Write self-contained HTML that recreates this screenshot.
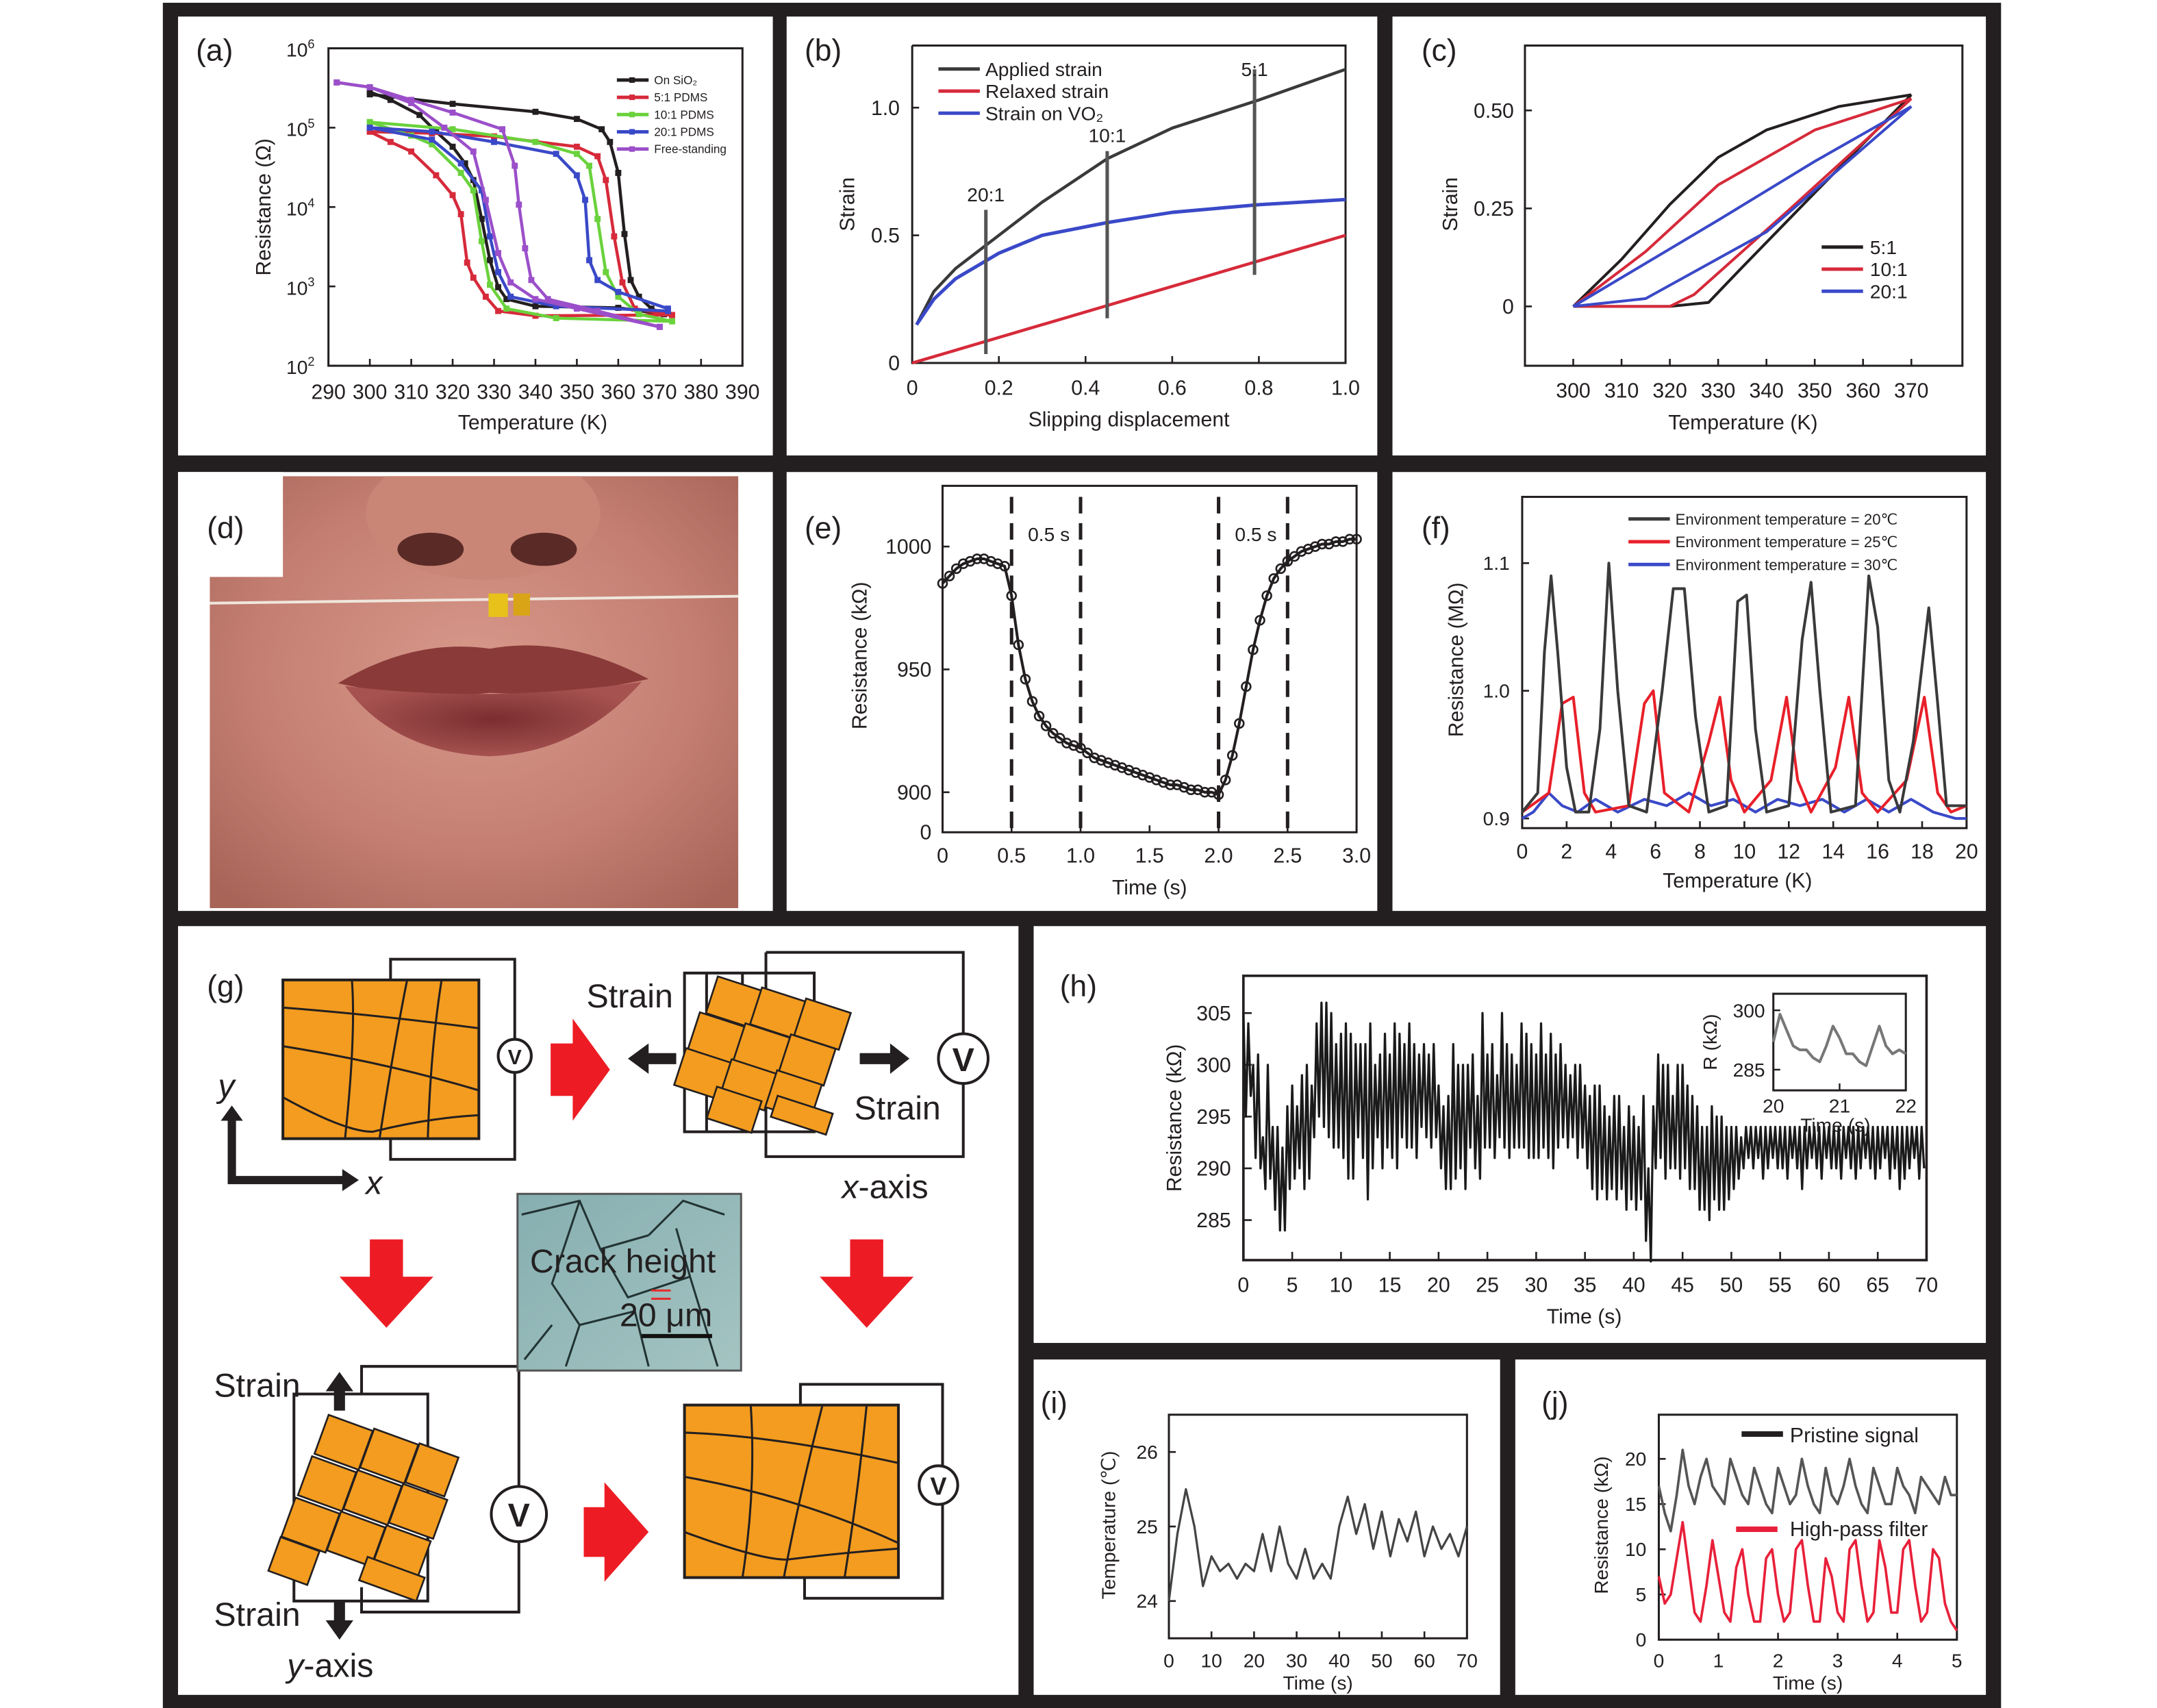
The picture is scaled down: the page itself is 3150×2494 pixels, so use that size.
<!DOCTYPE html>
<html><head><meta charset="utf-8"><style>
html,body{margin:0;padding:0;background:#fff;overflow:hidden;}
svg{display:block;font-family:"Liberation Sans",sans-serif;}
</style></head><body>
<svg id="fig" width="3150" height="2494" viewBox="0 0 1563 1237.5" preserveAspectRatio="none" xmlns="http://www.w3.org/2000/svg">
<rect x="0" y="0" width="1563" height="1238" fill="#fff"/>
<rect x="118" y="2" width="1332" height="1236" fill="#231f20"/>
<rect x="129" y="12" width="431" height="318" fill="#fff"/>
<rect x="570" y="12" width="428" height="318" fill="#fff"/>
<rect x="1009" y="12" width="430" height="318" fill="#fff"/>
<rect x="129" y="342" width="431" height="318" fill="#fff"/>
<rect x="570" y="342" width="428" height="318" fill="#fff"/>
<rect x="1009" y="342" width="430" height="318" fill="#fff"/>
<rect x="129" y="671" width="609" height="557" fill="#fff"/>
<rect x="749" y="671" width="690" height="302" fill="#fff"/>
<rect x="749" y="985" width="338" height="243" fill="#fff"/>
<rect x="1098" y="985" width="341" height="243" fill="#fff"/>

<defs>
<radialGradient id="skin" cx="0.5" cy="0.45" r="0.7"><stop offset="0" stop-color="#d7988a"/><stop offset="0.6" stop-color="#c47f72"/><stop offset="1" stop-color="#a76457"/></radialGradient>
<radialGradient id="lip" cx="0.5" cy="0.5" r="0.5"><stop offset="0" stop-color="#7a2e30"/><stop offset="1" stop-color="#a65250"/></radialGradient>
<linearGradient id="micro" x1="0" y1="0" x2="1" y2="1"><stop offset="0" stop-color="#86aeb0"/><stop offset="1" stop-color="#a4c4c2"/></linearGradient>
<clipPath id="photoClip"><rect x="152" y="345" width="383" height="313"/></clipPath>
</defs>
<g clip-path="url(#photoClip)">
<rect x="152" y="345" width="383" height="313" fill="url(#skin)"/>
<ellipse cx="350" cy="372" rx="85" ry="48" fill="#c98676"/>
<ellipse cx="312" cy="398" rx="24" ry="12" fill="#5a2a26"/>
<ellipse cx="394" cy="398" rx="24" ry="12" fill="#5a2a26"/>
<path d="M245 495 Q300 462 355 470 Q410 460 470 492 Q410 505 355 502 Q300 508 245 495 Z" fill="#8a3a39"/>
<path d="M250 497 Q355 510 465 494 Q420 545 355 548 Q285 545 250 497 Z" fill="url(#lip)"/>
<line x1="152" y1="437" x2="535" y2="432" stroke="#efe6dc" stroke-width="2"/>
<rect x="354" y="430" width="14" height="17" fill="#e8c21a"/>
<rect x="372" y="430" width="12" height="16" fill="#d9a516"/>
</g>
<rect x="129" y="342" width="76" height="76" fill="#fff"/>

<g stroke="#231f20" fill="none" stroke-width="2">
<path d="M283 710 V695 H373 V753 M373 777 V840 H283 V825"/>
<circle cx="373" cy="765" r="12" fill="#fff"/>
<rect x="205" y="710" width="142" height="115" fill="#f39c1f"/>
<path d="M205 730 Q270 735 347 745 M205 758 Q280 770 347 790 M205 795 Q250 820 270 820 Q310 810 347 808 M255 710 Q258 750 250 825 M295 710 Q285 760 275 825 M320 710 Q312 760 310 825" stroke-width="1.5"/>
<path d="M555 690 H698 V749 M698 785 V838 H555 V690 M496 705 H590 V820 H496 Z M512 705 V820 M538 705 V820"/>
<circle cx="698" cy="767" r="18" fill="#fff"/>
<g fill="#f39c1f" stroke-width="1.3">
<rect x="515" y="712" width="34" height="28" transform="rotate(18 532 726)"/><rect x="547" y="720" width="34" height="28" transform="rotate(18 564 734)"/><rect x="579" y="728" width="34" height="28" transform="rotate(18 596 742)"/>
<rect x="502" y="738" width="34" height="28" transform="rotate(18 519 752)"/><rect x="535" y="746" width="34" height="28" transform="rotate(18 552 760)"/><rect x="568" y="754" width="34" height="28" transform="rotate(18 585 768)"/>
<rect x="492" y="764" width="34" height="28" transform="rotate(18 509 778)"/><rect x="525" y="772" width="34" height="28" transform="rotate(18 542 786)"/><rect x="558" y="780" width="34" height="28" transform="rotate(18 575 794)"/>
<rect x="515" y="792" width="34" height="24" transform="rotate(18 532 804)"/><rect x="560" y="800" width="42" height="16" transform="rotate(18 581 808)"/>
</g>
<path d="M580 1018 V1003 H683 V1062 M683 1090 V1158 H583 V1143"/>
<circle cx="680" cy="1076" r="14" fill="#fff"/>
<rect x="496" y="1018" width="155" height="125" fill="#f39c1f"/>
<path d="M496 1038 Q560 1040 651 1060 M496 1070 Q580 1085 651 1118 M496 1110 Q550 1130 570 1130 Q610 1125 651 1122 M544 1018 Q548 1080 538 1143 M596 1018 Q580 1080 568 1143 M628 1018 Q622 1080 612 1143" stroke-width="1.5"/>
<path d="M213 1010 H310 V1160 H213 Z M262 1010 V990 H376 V1077 M376 1117 V1168 H262 V1150"/>
<circle cx="376" cy="1097" r="20" fill="#fff"/>
<g fill="#f39c1f" stroke-width="1.3">
<rect x="232" y="1030" width="34" height="30" transform="rotate(20 249 1045)"/><rect x="265" y="1040" width="34" height="30" transform="rotate(20 282 1055)"/><rect x="298" y="1050" width="30" height="30" transform="rotate(20 313 1065)"/>
<rect x="220" y="1060" width="34" height="30" transform="rotate(20 237 1075)"/><rect x="253" y="1070" width="34" height="30" transform="rotate(20 270 1085)"/><rect x="286" y="1080" width="34" height="30" transform="rotate(20 303 1095)"/>
<rect x="208" y="1090" width="34" height="30" transform="rotate(20 225 1105)"/><rect x="241" y="1100" width="34" height="30" transform="rotate(20 258 1115)"/><rect x="274" y="1110" width="34" height="30" transform="rotate(20 291 1125)"/>
<rect x="198" y="1118" width="30" height="26" transform="rotate(20 213 1131)"/><rect x="262" y="1135" width="44" height="18" transform="rotate(20 284 1144)"/>
</g>
</g>
<g>
<rect x="375" y="865" width="162" height="128" fill="url(#micro)" stroke="#555" stroke-width="1.5"/>
<path d="M378 880 L420 870 L435 905 L470 895 M420 870 L400 930 L420 960 L460 950 L470 990 M435 905 L455 940 L500 925 L520 990 M470 895 L495 870 L525 880 M500 925 L490 890 M400 960 L380 985 M420 960 L410 990" stroke="#233" stroke-width="1.5" fill="none"/>
<path d="M472 935 H486 M472 941 H486" stroke="#e62c2c" stroke-width="1.5"/>
<line x1="465" y1="968" x2="516" y2="968" stroke="#111" stroke-width="3"/>
</g>
<g fill="#ed1c24">
<path d="M399 756 H415 V738 L442 775 L415 812 V794 H399 Z"/>
<path d="M268 898 H292 V925 H314 L280 962 L246 925 H268 Z"/>
<path d="M616 898 H640 V925 H662 L628 962 L594 925 H616 Z"/>
<path d="M423 1092 H438 V1074 L470 1110 L438 1146 V1128 H423 Z"/>
</g>
<g fill="#231f20">
<path d="M490 763 H470 V756 L455 767 L470 778 V771 H490 Z"/>
<path d="M623 763 H645 V756 L659 767 L645 778 V771 H623 Z"/>
<path d="M242 1022 V1008 H236 L246 994 L256 1008 H250 V1022 Z"/>
<path d="M242 1160 V1174 H236 L246 1188 L256 1174 H250 V1160 Z"/>
<path d="M165 858 V812 H160 L168 801 L176 812 H171 V852 H248 V847 L260 855 L248 863 V858 Z"/>
</g>
<g font-size="24" fill="#231f20">
<text x="425" y="730">Strain</text>
<text x="619" y="811">Strain</text>
<text x="155" y="1012">Strain</text>
<text x="155" y="1178">Strain</text>
<text x="158" y="795" font-style="italic">y</text>
<text x="265" y="865" font-style="italic">x</text>
<text x="610" y="868"><tspan font-style="italic">x</tspan>-axis</text>
<text x="208" y="1215"><tspan font-style="italic">y</tspan>-axis</text>
<text x="384" y="922">Crack height</text>
<text x="449" y="961">20 μm</text>
<text x="373" y="771" font-size="15" text-anchor="middle" font-weight="bold">V</text>
<text x="698" y="776" font-size="24" text-anchor="middle" font-weight="bold">V</text>
<text x="376" y="1106" font-size="24" text-anchor="middle" font-weight="bold">V</text>
<text x="680" y="1083" font-size="18" text-anchor="middle" font-weight="bold">V</text>
</g>
<g font-size="22" fill="#231f20">
<text x="142" y="44">(a)</text>
<text x="583" y="44">(b)</text>
<text x="1030" y="44">(c)</text>
<text x="150" y="390">(d)</text>
<text x="583" y="390">(e)</text>
<text x="1030" y="390">(f)</text>
<text x="150" y="722">(g)</text>
<text x="768" y="722">(h)</text>
<text x="754" y="1024">(i)</text>
<text x="1117" y="1024">(j)</text>
</g>
</svg>
<script>
// ---------- data ----------
const aSiO2Heat=[[300,5.42],[320,5.3],[340,5.2],[350,5.11],[356,4.98],[358,4.82],[360,4.43],[361.5,3.66],[363,3.08],[365,2.87],[368,2.72],[371,2.65]];
const aSiO2Cool=[[300,5.45],[305,5.35],[312,5.16],[316,4.95],[320,4.76],[323,4.55],[325,4.34],[327,3.85],[329,3.33],[331,2.99],[333,2.84],[340,2.75],[360,2.73],[371,2.65]];
const a5Heat=[[300,4.95],[315,4.93],[330,4.89],[350,4.76],[355,4.64],[357,4.34],[359,3.63],[361,3.05],[364,2.72],[373,2.64]];
const a5Cool=[[300,4.95],[305,4.82],[310,4.7],[316,4.4],[320,4.15],[322,3.91],[323.5,3.3],[325,3.11],[328,2.87],[331,2.69],[340,2.63],[373,2.64]];
const a10Heat=[[300,5.07],[320,4.98],[340,4.82],[350,4.67],[353,4.52],[355,3.85],[357,3.18],[360,2.87],[365,2.65],[373,2.56]];
const a10Cool=[[300,5.07],[310,4.9],[315,4.79],[322,4.43],[325,4.21],[327,3.57],[329,3.02],[333,2.72],[345,2.6],[373,2.56]];
const a20Heat=[[300,5.0],[315,4.95],[330,4.82],[345,4.67],[350,4.4],[352,4.09],[353,3.33],[355,3.08],[360,2.93],[372,2.72]];
const a20Cool=[[300,5.0],[315,4.85],[322,4.55],[327,4.21],[329,3.63],[331,3.18],[334,2.87],[345,2.75],[372,2.69]];
const aFreeHeat=[[292,5.57],[300,5.51],[310,5.35],[320,5.19],[332,4.98],[335,4.52],[336,4.03],[337.5,3.48],[339,3.08],[343,2.84],[355,2.69],[370,2.49]];
const aFreeCool=[[292,5.57],[300,5.51],[310,5.31],[318,5.0],[325,4.7],[328,4.09],[331,3.42],[334,3.05],[340,2.84],[350,2.72],[370,2.49]];
const aXTicks=[290,300,310,320,330,340,350,360,370,380,390];
const aYTicks=[2,3,4,5,6];

const bApplied=[[0.01,0.15],[0.05,0.28],[0.1,0.37],[0.2,0.5],[0.3,0.63],[0.45,0.8],[0.6,0.92],[0.8,1.03],[1.0,1.15]];
const bRelaxed=[[0,0],[1.0,0.5]];
const bOnVO2=[[0.01,0.15],[0.05,0.25],[0.1,0.33],[0.2,0.43],[0.3,0.5],[0.45,0.55],[0.6,0.59],[0.8,0.62],[1.0,0.64]];
const bRatios=[0.17,0.45,0.79];
const bXTicks=[0,0.2,0.4,0.6,0.8,1.0];
const bYTicks=[0,0.5,1.0];

const c5Upper=[[300,0],[310,0.12],[320,0.26],[330,0.38],[340,0.45],[355,0.51],[370,0.54]];
const c5Lower=[[300,0],[320,0],[328,0.01],[335,0.1],[350,0.29],[370,0.54]];
const c10Upper=[[300,0],[315,0.14],[330,0.31],[350,0.45],[370,0.53]];
const c10Lower=[[300,0],[320,0],[325,0.03],[345,0.25],[370,0.53]];
const c20Upper=[[300,0],[330,0.22],[350,0.37],[370,0.51]];
const c20Lower=[[300,0],[315,0.02],[340,0.19],[370,0.51]];
const cXTicks=[300,310,320,330,340,350,360,370];
const cYTicks=[0,0.25,0.5];

const eRes=[985,988,991,993,994,995,995,994,993,992,980,960,946,937,931,927,924,922,920,919,918,916,914,913,912,911,910,909,908,907,906,905,904,903,903,902,901,901,900,900,899,905,915,928,943,958,970,980,987,991,994,996,998,999,1000,1001,1001,1002,1002,1003,1003];
const eDashes=[0.5,1.0,2.0,2.5];
const eXTicks=[0,0.5,1.0,1.5,2.0,2.5,3.0];
const eYTicks=[900,950,1000];

const f20=[[0,0.905],[0.7,0.92],[1.0,1.03],[1.3,1.09],[1.6,1.03],[2.0,0.94],[2.4,0.905],[3.0,0.905],[3.5,0.97],[3.9,1.10],[4.3,1.0],[4.8,0.91],[5.6,0.905],[6.3,1.0],[6.8,1.08],[7.3,1.08],[7.8,0.98],[8.4,0.905],[9.2,0.91],[9.7,1.07],[10.1,1.075],[10.5,0.97],[11.0,0.905],[12.0,0.91],[12.6,1.04],[13.0,1.085],[13.4,1.0],[13.9,0.905],[15.0,0.91],[15.6,1.09],[16.0,1.05],[16.5,0.93],[17.0,0.905],[17.6,0.96],[18.3,1.065],[18.7,0.99],[19.1,0.91],[20,0.91]];
const f25=[[0,0.905],[1.2,0.92],[1.8,0.99],[2.3,0.995],[2.8,0.92],[3.3,0.905],[4.8,0.91],[5.5,0.99],[5.9,1.0],[6.4,0.92],[7.5,0.905],[8.4,0.96],[8.9,0.995],[9.4,0.93],[10,0.905],[11.2,0.93],[11.9,0.995],[12.4,0.93],[13,0.905],[14.1,0.94],[14.7,0.995],[15.3,0.92],[16,0.905],[17.3,0.93],[18.1,0.995],[18.7,0.92],[19.3,0.905],[20,0.91]];
const f30=[[0,0.9],[0.5,0.905],[1.2,0.92],[1.8,0.91],[2.5,0.905],[3.3,0.915],[4.3,0.905],[5.5,0.915],[6.5,0.91],[7.5,0.92],[8.5,0.91],[9.5,0.915],[10.5,0.905],[11.5,0.915],[12.5,0.91],[13.5,0.915],[14.5,0.905],[15.5,0.915],[16.5,0.905],[17.5,0.915],[18.5,0.905],[19.5,0.9],[20,0.9]];
const fXTicks=[0,2,4,6,8,10,12,14,16,18,20];
const fYTicks=[0.9,1.0,1.1];

const hHigh=[305,304,300,301,293,300,294,294,292,296,298,296,299,300,298,304,306,306,305,302,303,304,303,302,302,302,304,300,301,303,301,304,303,302,304,302,301,302,301,302,298,296,297,302,300,300,300,301,297,305,301,302,299,305,302,301,300,304,303,302,301,304,301,303,301,302,300,299,300,300,298,297,298,298,296,295,297,297,294,296,295,294,297,290,296,301,300,300,297,300,300,298,297,296,294,294,296,295,295,294,294,294,293,294,294,294,294,294,294,294,294,294,294,294,294,294,294,294,294,294,294,294,294,294,294,294,294,294,294,294,294,294,294,294,294,294,294,294,294,294];
const hLow=[295,297,291,290,288,289,286,284,284,288,289,290,288,289,293,295,294,293,292,292,291,289,289,293,291,287,290,293,290,292,291,290,293,292,292,291,294,293,292,293,290,288,288,289,290,288,292,290,289,292,292,291,293,292,291,292,292,292,291,291,291,292,291,290,292,293,292,293,291,292,290,288,287,288,287,288,287,288,286,287,286,287,283,281,290,291,289,290,290,289,290,288,288,286,286,285,287,286,286,287,288,289,290,291,290,291,289,290,291,290,290,289,291,290,288,290,291,290,289,291,290,290,289,291,290,289,290,291,290,289,290,291,289,290,288,289,290,291,289,290];
const hInset=[292,299,295,291,290,290,288,287,291,296,293,289,289,287,286,291,296,291,289,290,289];
const hXTicks=[0,5,10,15,20,25,30,35,40,45,50,55,60,65,70];
const hYTicks=[285,290,295,300,305];

const iTemp=[24.0,24.9,25.5,25.0,24.2,24.6,24.4,24.5,24.3,24.5,24.4,24.9,24.4,25.0,24.5,24.3,24.7,24.3,24.5,24.3,25.0,25.4,24.9,25.3,24.7,25.2,24.6,25.1,24.8,25.2,24.6,25.0,24.7,24.9,24.6,25.0];
const iXTicks=[0,10,20,30,40,50,60,70];
const iYTicks=[24,25,26];

const jPristine=[17,14,12,16,21,17,15,18,20,17,16,15,20,18,16,15,19,17,15,14,19,17,15,16,20,17,15,14,19,16,15,17,20,17,15,14,19,17,15,15,19,17,16,14,18,17,16,15,18,16,16];
const jFiltered=[7,4,5,9,13,8,3,2,6,11,7,3,2,8,10,5,2,2,9,10,5,2,3,10,11,6,2,2,9,7,3,2,10,11,6,2,3,11,8,3,3,10,11,6,2,3,10,9,4,2,1];
const jXTicks=[0,1,2,3,4,5];
const jYTicks=[0,5,10,15,20];

// ---------- helpers ----------
const NS='http://www.w3.org/2000/svg';
const fig=document.getElementById('fig');
function mk(tag,attrs,name){
  const el=document.createElementNS(NS,tag);
  for(const k in attrs) el.setAttribute(k,attrs[k]);
  
  
  fig.appendChild(el);
  return el;
}
function txt(x,y,s,size,anchor,name,rot){
  const a={x:x,y:y,'font-size':size,'text-anchor':anchor,fill:'#231f20'};
  if(rot) a.transform='rotate(-90 '+x+' '+y+')';
  const t=mk('text',a,name);
  t.textContent=s;
  return t;
}
function lin(a,b,c,d){return v=>c+(v-a)/(b-a)*(d-c);}
function path(pts,sx,sy,stroke,w,name){
  const d=pts.map((p,i)=>(i?'L':'M')+sx(p[0]).toFixed(2)+' '+sy(p[1]).toFixed(2)).join('');
  return mk('path',{d:d,fill:'none',stroke:stroke,'stroke-width':w,'stroke-linejoin':'round'},name);
}
function box(x0,y0,x1,y1,name,w){
  return mk('rect',{x:x0,y:y0,width:x1-x0,height:y1-y0,fill:'none',stroke:'#231f20','stroke-width':w||1.5},name);
}
function xTicks(vals,sx,yb,len,ly,size,fmt,name){
  vals.forEach(v=>{
    mk('line',{x1:sx(v),x2:sx(v),y1:yb,y2:yb-len,stroke:'#231f20','stroke-width':1.3},name+'-tick');
    txt(sx(v),ly,fmt(v),size,'middle',name+'-label');
  });
}
function yTicks(vals,sy,xl,len,lx,size,fmt,name){
  vals.forEach(v=>{
    mk('line',{x1:xl,x2:xl+len,y1:sy(v),y2:sy(v),stroke:'#231f20','stroke-width':1.3},name+'-tick');
    txt(lx,sy(v)+size*0.35,fmt(v),size,'end',name+'-label');
  });
}

// ---------- panel a ----------
{
const sx=lin(290,390,238,538), sy=lin(2,6,265,35);
box(238,35,538,265,'plot-area-a',1.5);
xTicks(aXTicks,sx,265,5,289,15,v=>String(v),'x-axis-a');
aYTicks.forEach(v=>{
  mk('line',{x1:238,x2:243,y1:sy(v),y2:sy(v),stroke:'#231f20','stroke-width':1.3},'y-tick-a');
  const t=txt(228,sy(v)+6,'10',14,'end','y-label-a');
  const s=document.createElementNS(NS,'tspan');
  s.setAttribute('dy','-6');
  s.setAttribute('font-size','9');
  s.textContent=String(v);
  t.appendChild(s);
});
txt(386,311,'Temperature (K)',15,'middle','x-axis-title-a');
txt(196,150,'Resistance (Ω)',15,'middle','y-axis-title-a',true);
const series=[[aSiO2Heat,aSiO2Cool,'#231f20','On SiO₂'],[a5Heat,a5Cool,'#d62a3a','5:1 PDMS'],[a10Heat,a10Cool,'#6ad23c','10:1 PDMS'],[a20Heat,a20Cool,'#3a49c8','20:1 PDMS'],[aFreeHeat,aFreeCool,'#9b4fc9','Free-standing']];
series.forEach((s,k)=>{
  path(s[0],sx,sy,s[2],2.2,'curve-heating-'+k);
  path(s[1],sx,sy,s[2],2.2,'curve-cooling-'+k);
  s[0].concat(s[1]).forEach(p=>{
    mk('rect',{x:sx(p[0])-2.2,y:sy(p[1])-2.2,width:4.4,height:4.4,fill:s[2]},'marker-a');
  });
  const ly=58+k*12.5;
  mk('line',{x1:447,x2:470,y1:ly,y2:ly,stroke:s[2],'stroke-width':2.5},'legend-line-a');
  mk('rect',{x:456,y:ly-2,width:4,height:4,fill:s[2]},'legend-marker-a');
  txt(474,ly+3,s[3],8.5,'start','legend-text-a');
});
}
// ---------- panel b ----------
{
const sx=lin(0,1,661,975), sy=lin(0,1,263,78);
mk('path',{d:'M661 33 V263 H975 V33 H661',fill:'none',stroke:'#231f20','stroke-width':1.5},'plot-area-b');
xTicks(bXTicks,sx,263,5,286,15,v=>v===0?'0':v.toFixed(1),'x-axis-b');
yTicks(bYTicks,sy,661,5,652,15,v=>v===0?'0':v.toFixed(1),'y-axis-b');
txt(818,309,'Slipping displacement',15,'middle','x-axis-title-b');
txt(619,148,'Strain',15,'middle','y-axis-title-b',true);
path(bApplied,sx,sy,'#3a3a3a',2.2,'applied-strain-line');
path(bRelaxed,sx,sy,'#d62a3a',2.2,'relaxed-strain-line');
path(bOnVO2,sx,sy,'#3a49c8',2.5,'vo2-strain-line');
const lab=['20:1','10:1','5:1'], top=[0.6,0.83,1.15], ly=[146,103,55];
bRatios.forEach((r,k)=>{
  mk('line',{x1:sx(r),x2:sx(r),y1:sy(top[k]),y2:sy(r*0.5-0.05),stroke:'#555','stroke-width':2.5},'ratio-line-b');
  txt(sx(r),ly[k],lab[k],14,'middle','ratio-label-b');
});
[['#3a3a3a','Applied strain'],['#d62a3a','Relaxed strain'],['#3a49c8','Strain on VO₂']].forEach((l,k)=>{
  const y=50+k*16;
  mk('line',{x1:680,x2:710,y1:y,y2:y,stroke:l[0],'stroke-width':2.5},'legend-line-b');
  txt(714,y+5,l[1],14,'start','legend-text-b');
});
}
// ---------- panel c ----------
{
const sx=lin(300,370,1140,1385), sy=lin(0,0.5,222,80);
box(1105,33,1422,265,'plot-area-c',1.5);
xTicks(cXTicks,sx,265,5,288,15,v=>String(v),'x-axis-c');
yTicks(cYTicks,sy,1105,5,1097,15,v=>v===0?'0':v.toFixed(2),'y-axis-c');
txt(1263,311,'Temperature (K)',15,'middle','x-axis-title-c');
txt(1056,148,'Strain',15,'middle','y-axis-title-c',true);
const cs=[[c5Upper,c5Lower,'#231f20','5:1'],[c10Upper,c10Lower,'#d62a3a','10:1'],[c20Upper,c20Lower,'#3a49c8','20:1']];
cs.forEach((s,k)=>{
  path(s[0],sx,sy,s[2],2,'strain-upper-'+k);
  path(s[1],sx,sy,s[2],2,'strain-lower-'+k);
  const y=179+k*16;
  mk('line',{x1:1320,x2:1350,y1:y,y2:y,stroke:s[2],'stroke-width':2.5},'legend-line-c');
  txt(1355,y+5,s[3],14,'start','legend-text-c');
});
}
// ---------- panel e ----------
{
const sx=lin(0,3,683,983), sy=lin(900,1000,574,396);
box(683,352,983,603,'plot-area-e',1.5);
xTicks(eXTicks,sx,603,5,625,15,v=>v===0?'0':v.toFixed(1),'x-axis-e');
yTicks(eYTicks,sy,683,5,675,15,v=>String(v),'y-axis-e');
txt(675,608,'0',15,'end','y-label-e-zero');
txt(833,648,'Time (s)',15,'middle','x-axis-title-e');
txt(628,475,'Resistance (kΩ)',15,'middle','y-axis-title-e',true);
eDashes.forEach(t=>{
  mk('line',{x1:sx(t),x2:sx(t),y1:360,y2:603,stroke:'#231f20','stroke-width':2.5,'stroke-dasharray':'12 7'},'dashed-marker-e');
});
txt(760,392,'0.5 s',14,'middle','interval-label-1');
txt(910,392,'0.5 s',14,'middle','interval-label-2');
const pts=eRes.map((v,i)=>[i*0.05,v]);
path(pts,sx,sy,'#231f20',2,'resistance-curve-e');
pts.forEach(p=>{
  mk('circle',{cx:sx(p[0]),cy:sy(p[1]),r:3.2,fill:'none',stroke:'#231f20','stroke-width':1.3},'marker-e');
});
}
// ---------- panel f ----------
{
const sx=lin(0,20,1103,1425), sy=lin(0.9,1.1,593,408);
box(1103,360,1425,600,'plot-area-f',1.5);
xTicks(fXTicks,sx,600,5,622,15,v=>String(v),'x-axis-f');
yTicks(fYTicks,sy,1103,5,1094,14,v=>v.toFixed(1),'y-axis-f');
txt(1259,643,'Temperature (K)',15,'middle','x-axis-title-f');
txt(1060,478,'Resistance (MΩ)',15,'middle','y-axis-title-f',true);
[[f30,'#3a49c8','30'],[f25,'#e8202a','25'],[f20,'#3a3a3a','20']].forEach(s=>{
  path(s[0],sx,sy,s[1],2,'resistance-'+s[2]+'C');
});
[['#3a3a3a','20'],['#e8202a','25'],['#3a49c8','30']].forEach((l,k)=>{
  const y=376+k*16.5;
  mk('line',{x1:1180,x2:1210,y1:y,y2:y,stroke:l[0],'stroke-width':2.5},'legend-line-f');
  txt(1214,y+4,'Environment temperature = '+l[1]+'℃',11,'start','legend-text-f');
});
}
// ---------- panel h ----------
{
const sx=lin(0,70,901,1396), sy=lin(285,305,884,734);
box(901,707,1396,913,'plot-area-h',1.8);
xTicks(hXTicks,sx,913,6,936,15,v=>String(v),'x-axis-h');
yTicks(hYTicks,sy,901,6,892,15,v=>String(v),'y-axis-h');
txt(1148,959,'Time (s)',15,'middle','x-axis-title-h');
txt(856,810,'Resistance (kΩ)',15,'middle','y-axis-title-h',true);
const pts=[];
hHigh.forEach((v,i)=>{pts.push([i*0.5,v]);pts.push([i*0.5+0.25,hLow[i]]);});
path(pts,sx,sy,'#1a1a1a',1.6,'resistance-signal-h');
mk('rect',{x:1283,y:718,width:100,height:76,fill:'#fff'},'inset-background');
const ix=lin(20,22,1285,1381), iy=lin(285,300,775,732);
box(1285,720,1381,790,'inset-plot-h',1.5);
[20,21,22].forEach(v=>{
  mk('line',{x1:ix(v),x2:ix(v),y1:790,y2:785,stroke:'#231f20','stroke-width':1.2},'inset-x-tick');
  txt(ix(v),806,String(v),14,'middle','inset-x-label');
});
[285,300].forEach(v=>{
  mk('line',{x1:1285,x2:1290,y1:iy(v),y2:iy(v),stroke:'#231f20','stroke-width':1.2},'inset-y-tick');
  txt(1279,iy(v)+5,String(v),14,'end','inset-y-label');
});
txt(1330,820,'Time (s)',14,'middle','inset-x-title');
txt(1244,755,'R (kΩ)',14,'middle','inset-y-title',true);
path(hInset.map((v,i)=>[20+i*0.1,v]),ix,iy,'#777',2,'inset-signal');
}
// ---------- panel i ----------
{
const sx=lin(0,70,847,1063), sy=lin(24,26,1160,1052);
box(847,1025,1063,1187,'plot-area-i',1.5);
xTicks(iXTicks,sx,1187,5,1208,14,v=>String(v),'x-axis-i');
yTicks(iYTicks,sy,847,5,839,14,v=>String(v),'y-axis-i');
txt(955,1224,'Time (s)',14,'middle','x-axis-title-i');
txt(808,1105,'Temperature (℃)',14,'middle','y-axis-title-i',true);
path(iTemp.map((v,i)=>[i*2,v]),sx,sy,'#444',1.6,'temperature-line');
}
// ---------- panel j ----------
{
const sx=lin(0,5,1202,1418), sy=lin(0,20,1188,1057);
box(1202,1025,1418,1188,'plot-area-j',1.5);
xTicks(jXTicks,sx,1188,5,1208,14,v=>String(v),'x-axis-j');
yTicks(jYTicks,sy,1202,5,1193,14,v=>String(v),'y-axis-j');
txt(1310,1224,'Time (s)',14,'middle','x-axis-title-j');
txt(1165,1105,'Resistance (kΩ)',14,'middle','y-axis-title-j',true);
path(jPristine.map((v,i)=>[i*0.1,v]),sx,sy,'#555',1.8,'pristine-signal-line');
path(jFiltered.map((v,i)=>[i*0.1,v]),sx,sy,'#e8203a',1.8,'high-pass-line');
mk('line',{x1:1262,x2:1292,y1:1039,y2:1039,stroke:'#231f20','stroke-width':4},'legend-line-pristine');
txt(1297,1045,'Pristine signal',15,'start','legend-text-pristine');
mk('line',{x1:1258,x2:1288,y1:1108,y2:1108,stroke:'#e8203a','stroke-width':4},'legend-line-filter');
txt(1297,1113,'High-pass filter',15,'start','legend-text-filter');
}
</script>
</body></html>
